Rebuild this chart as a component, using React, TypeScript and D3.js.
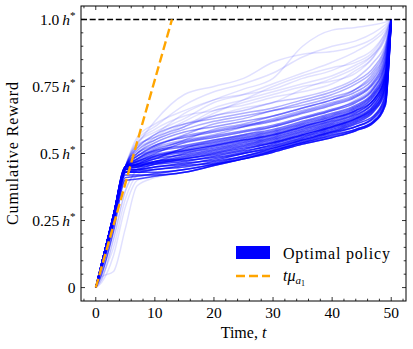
import * as d3 from "d3";

// time steps at which each run's cumulative reward was read
const times = [0, 1, 3, 5, 7, 10, 15, 20, 25, 30, 35, 40, 44, 47, 49, 50];

// cumulative reward (fraction of h*) of representative runs of the optimal policy
const runs: number[][] = [
  [0, 0.09, 0.27, 0.45, 0.45, 0.46, 0.47, 0.49, 0.51, 0.53, 0.56, 0.59, 0.62, 0.66, 0.74, 1],
  [0, 0.08, 0.25, 0.43, 0.43, 0.43, 0.44, 0.46, 0.48, 0.51, 0.54, 0.57, 0.59, 0.62, 0.69, 1],
  [0, 0.09, 0.26, 0.44, 0.44, 0.45, 0.46, 0.48, 0.5, 0.52, 0.55, 0.58, 0.61, 0.64, 0.72, 1],
  [0, 0.07, 0.24, 0.42, 0.42, 0.42, 0.43, 0.455, 0.48, 0.505, 0.535, 0.56, 0.585, 0.615, 0.68, 1],
  [0, 0.09, 0.27, 0.45, 0.46, 0.47, 0.49, 0.51, 0.53, 0.55, 0.58, 0.61, 0.64, 0.69, 0.77, 1],
  [0, 0.09, 0.27, 0.45, 0.47, 0.49, 0.51, 0.53, 0.55, 0.57, 0.6, 0.63, 0.66, 0.71, 0.79, 1],
  [0, 0.08, 0.26, 0.44, 0.45, 0.47, 0.5, 0.52, 0.54, 0.56, 0.59, 0.62, 0.65, 0.7, 0.78, 1],
  [0, 0.09, 0.27, 0.45, 0.48, 0.51, 0.53, 0.55, 0.57, 0.59, 0.62, 0.65, 0.68, 0.73, 0.82, 1],
  [0, 0.08, 0.25, 0.43, 0.44, 0.46, 0.48, 0.5, 0.52, 0.54, 0.57, 0.6, 0.63, 0.67, 0.75, 1],
  [0, 0.09, 0.27, 0.45, 0.46, 0.48, 0.52, 0.54, 0.56, 0.58, 0.61, 0.64, 0.67, 0.72, 0.8, 1],
  [0, 0.09, 0.27, 0.45, 0.49, 0.53, 0.56, 0.58, 0.6, 0.62, 0.65, 0.68, 0.71, 0.76, 0.84, 1],
  [0, 0.08, 0.25, 0.43, 0.43, 0.44, 0.45, 0.47, 0.49, 0.52, 0.55, 0.58, 0.6, 0.63, 0.7, 1],
  [0, 0.05, 0.21, 0.4, 0.405, 0.415, 0.43, 0.455, 0.48, 0.505, 0.535, 0.56, 0.585, 0.615, 0.68, 1],
  [0, 0.09, 0.27, 0.45, 0.47, 0.5, 0.54, 0.56, 0.58, 0.6, 0.63, 0.66, 0.69, 0.74, 0.83, 1],
  [0, 0.09, 0.27, 0.45, 0.5, 0.54, 0.58, 0.6, 0.62, 0.64, 0.67, 0.7, 0.73, 0.78, 0.87, 1],
  [0, 0.08, 0.26, 0.44, 0.46, 0.49, 0.51, 0.53, 0.55, 0.57, 0.6, 0.63, 0.66, 0.7, 0.79, 1],
  [0, 0.08, 0.25, 0.43, 0.435, 0.44, 0.455, 0.465, 0.49, 0.515, 0.545, 0.575, 0.6, 0.635, 0.71, 1],
  [0, 0.09, 0.26, 0.44, 0.44, 0.45, 0.465, 0.475, 0.5, 0.525, 0.555, 0.585, 0.615, 0.655, 0.73, 1],
  [0, 0.09, 0.27, 0.45, 0.455, 0.465, 0.475, 0.485, 0.505, 0.535, 0.565, 0.595, 0.625, 0.665, 0.75, 1],
  [0, 0.09, 0.27, 0.45, 0.455, 0.47, 0.48, 0.495, 0.515, 0.54, 0.57, 0.6, 0.63, 0.675, 0.76, 1],
  [0, 0.08, 0.26, 0.44, 0.45, 0.465, 0.485, 0.505, 0.525, 0.545, 0.575, 0.605, 0.635, 0.68, 0.765, 1],
  [0, 0.09, 0.27, 0.45, 0.46, 0.48, 0.495, 0.515, 0.535, 0.555, 0.585, 0.615, 0.645, 0.69, 0.775, 1],
  [0, 0.09, 0.27, 0.45, 0.465, 0.485, 0.505, 0.525, 0.545, 0.565, 0.595, 0.625, 0.655, 0.7, 0.785, 1],
  [0, 0.09, 0.27, 0.45, 0.47, 0.495, 0.515, 0.535, 0.555, 0.575, 0.605, 0.635, 0.665, 0.715, 0.8, 1],
  [0, 0.09, 0.27, 0.45, 0.475, 0.505, 0.525, 0.545, 0.565, 0.585, 0.615, 0.645, 0.675, 0.725, 0.81, 1],
  [0, 0.09, 0.27, 0.45, 0.48, 0.515, 0.545, 0.565, 0.585, 0.605, 0.635, 0.665, 0.695, 0.745, 0.835, 1],
  [0, 0.07, 0.23, 0.41, 0.415, 0.425, 0.44, 0.46, 0.485, 0.51, 0.54, 0.565, 0.59, 0.62, 0.69, 1],
  [0, 0.09, 0.27, 0.45, 0.49, 0.525, 0.565, 0.585, 0.605, 0.625, 0.655, 0.685, 0.715, 0.765, 0.855, 1],
  [0, 0.09, 0.27, 0.45, 0.51, 0.55, 0.59, 0.62, 0.64, 0.66, 0.69, 0.72, 0.76, 0.81, 0.89, 1],
  [0, 0.09, 0.27, 0.45, 0.52, 0.57, 0.61, 0.63, 0.65, 0.67, 0.7, 0.73, 0.77, 0.82, 0.9, 1],
  [0, 0.09, 0.27, 0.45, 0.5, 0.53, 0.57, 0.61, 0.63, 0.66, 0.68, 0.71, 0.74, 0.79, 0.88, 1],
  [0, 0.08, 0.26, 0.44, 0.48, 0.52, 0.55, 0.57, 0.6, 0.63, 0.66, 0.69, 0.72, 0.77, 0.86, 1],
  [0, 0.09, 0.27, 0.45, 0.53, 0.56, 0.6, 0.64, 0.66, 0.69, 0.71, 0.74, 0.78, 0.84, 0.91, 1],
  [0, 0.09, 0.27, 0.45, 0.49, 0.51, 0.55, 0.59, 0.61, 0.64, 0.67, 0.7, 0.74, 0.8, 0.88, 1],
  [0, 0.09, 0.27, 0.45, 0.55, 0.6, 0.68, 0.73, 0.76, 0.8, 0.86, 0.9, 0.92, 0.95, 0.98, 1],
  [0, 0.09, 0.27, 0.45, 0.53, 0.62, 0.72, 0.75, 0.78, 0.84, 0.87, 0.88, 0.9, 0.93, 0.97, 1],
  [0, 0.09, 0.27, 0.45, 0.52, 0.57, 0.65, 0.7, 0.74, 0.78, 0.9, 0.96, 0.97, 0.98, 0.99, 1],
  [0, 0.09, 0.27, 0.45, 0.54, 0.58, 0.63, 0.69, 0.72, 0.76, 0.8, 0.84, 0.88, 0.92, 0.96, 1],
  [0, 0.09, 0.27, 0.45, 0.56, 0.61, 0.66, 0.7, 0.72, 0.74, 0.78, 0.81, 0.85, 0.89, 0.95, 1],
  [0, 0.09, 0.27, 0.45, 0.5, 0.56, 0.62, 0.67, 0.7, 0.73, 0.76, 0.79, 0.83, 0.87, 0.93, 1],
  [0, 0.09, 0.27, 0.45, 0.54, 0.59, 0.64, 0.66, 0.69, 0.72, 0.75, 0.77, 0.8, 0.86, 0.93, 1],
  [0, 0.09, 0.27, 0.45, 0.52, 0.55, 0.6, 0.66, 0.68, 0.71, 0.73, 0.76, 0.81, 0.86, 0.94, 1],
  [0, 0.09, 0.27, 0.45, 0.51, 0.56, 0.6, 0.65, 0.7, 0.75, 0.79, 0.82, 0.84, 0.88, 0.95, 1],
  [0, 0.09, 0.27, 0.45, 0.5, 0.55, 0.61, 0.64, 0.67, 0.69, 0.74, 0.78, 0.82, 0.87, 0.94, 1],
  [0, 0.04, 0.06, 0.22, 0.38, 0.41, 0.43, 0.46, 0.48, 0.51, 0.54, 0.57, 0.6, 0.64, 0.72, 1],
  [0, 0.02, 0.12, 0.3, 0.4, 0.42, 0.44, 0.47, 0.5, 0.53, 0.56, 0.6, 0.63, 0.68, 0.76, 1],
  [0, 0.04, 0.15, 0.33, 0.42, 0.45, 0.48, 0.5, 0.53, 0.56, 0.59, 0.62, 0.65, 0.7, 0.8, 1],
  [0, 0.03, 0.18, 0.36, 0.44, 0.48, 0.52, 0.55, 0.57, 0.6, 0.63, 0.66, 0.7, 0.75, 0.85, 1],
];

// how many simulated runs follow each representative run
const runCounts = [
  10, 10, 10, 10, 8, 7, 8, 6, 10, 7, 5, 10, 9, 6, 4, 8,
  10, 10, 10, 9, 8, 8, 7, 6, 6, 5, 9, 4,
  3, 3, 3, 3, 2, 3,
  1, 1, 1, 1, 1, 1, 1, 1, 1, 1,
  1, 1, 1, 2,
];

// t * mu_{a1}, drawn until it reaches h*
const armTimes = [0, 12.9];
const armReward = [0, 1.0];

const optimumLevel = 1.0;

const xTicks = [0, 10, 20, 30, 40, 50];
const yTicks = [0, 0.25, 0.5, 0.75, 1.0];
const yTickNumbers = ["0", "0.25", "0.5", "0.75", "1.0"];

const FONT = "'Liberation Serif', 'DejaVu Serif', serif";
const BLUE = "#0000ff";
const ORANGE = "#ffa500";

export default function App() {
  const width = 413;
  const height = 349;
  const margin = { top: 6, right: 7, bottom: 48, left: 81 };
  const innerRight = width - margin.right;
  const innerBottom = height - margin.bottom;

  const x = d3.scaleLinear().domain([-2.5, 52.5]).range([margin.left, innerRight]);
  const y = d3.scaleLinear().domain([-0.05, 1.05]).range([innerBottom, margin.top]);

  const line = d3
    .line<[number, number]>()
    .x((d) => x(d[0]))
    .y((d) => y(d[1]));
  const runLine = d3
    .line<[number, number]>()
    .x((d) => x(d[0]))
    .y((d) => y(d[1]))
    .curve(d3.curveMonotoneX);

  const order = d3.range(runs.length).sort((a, b) => runCounts[a] - runCounts[b]);

  const xMinor = d3.range(-2, 53, 2).filter((v) => v % 10 !== 0);
  const yMinor = d3.range(0, 21).map((i) => i * 0.05).filter((_, i) => i % 5 !== 0);

  const major = 4;
  const minor = 2.3;

  return (
    <svg
      width={width}
      height={height}
      style={{ position: "absolute", left: 0, top: 0, background: "#fff" }}
      fontFamily={FONT}
    >
      {/* runs */}
      <g fill="none" stroke={BLUE} strokeWidth={1.5} strokeLinejoin="round">
        {order.map((i) => (
          <path
            key={i}
            d={runLine(times.map((t, k) => [t, runs[i][k]] as [number, number])) || ""}
            strokeOpacity={1 - Math.pow(0.88, runCounts[i])}
          />
        ))}
      </g>

      {/* h* level */}
      <line
        x1={x(-2.5)}
        x2={x(52.5)}
        y1={y(optimumLevel)}
        y2={y(optimumLevel)}
        stroke="#000"
        strokeWidth={1.5}
        strokeDasharray="6 2.7"
      />

      {/* t mu_a1 */}
      <path
        d={line(armTimes.map((t, k) => [t, armReward[k]] as [number, number])) || ""}
        fill="none"
        stroke={ORANGE}
        strokeWidth={2.4}
        strokeDasharray="9 4"
      />

      {/* frame and ticks */}
      <g stroke="#000" strokeWidth={0.8}>
        {xTicks.map((v) => (
          <g key={"xM" + v}>
            <line x1={x(v)} x2={x(v)} y1={innerBottom} y2={innerBottom - major} />
            <line x1={x(v)} x2={x(v)} y1={margin.top} y2={margin.top + major} />
          </g>
        ))}
        {xMinor.map((v) => (
          <g key={"xm" + v}>
            <line x1={x(v)} x2={x(v)} y1={innerBottom} y2={innerBottom - minor} />
            <line x1={x(v)} x2={x(v)} y1={margin.top} y2={margin.top + minor} />
          </g>
        ))}
        {yTicks.map((v) => (
          <g key={"yM" + v}>
            <line x1={margin.left} x2={margin.left + major} y1={y(v)} y2={y(v)} />
            <line x1={innerRight} x2={innerRight - major} y1={y(v)} y2={y(v)} />
          </g>
        ))}
        {yMinor.map((v) => (
          <g key={"ym" + v}>
            <line x1={margin.left} x2={margin.left + minor} y1={y(v)} y2={y(v)} />
            <line x1={innerRight} x2={innerRight - minor} y1={y(v)} y2={y(v)} />
          </g>
        ))}
        <rect
          x={margin.left}
          y={margin.top}
          width={innerRight - margin.left}
          height={innerBottom - margin.top}
          fill="none"
          strokeWidth={1}
        />
      </g>

      {/* tick labels */}
      <g fontSize={15.5} fill="#000">
        {xTicks.map((v) => (
          <text key={"xl" + v} x={x(v)} y={318} textAnchor="middle">
            {v}
          </text>
        ))}
        {yTicks.map((v, i) => (
          <text key={"yl" + v} x={75.5} y={y(v) + 5.5} textAnchor="end">
            <tspan>{yTickNumbers[i]}</tspan>
            {v !== 0 && (
              <>
                <tspan dx={3} fontStyle="italic">h</tspan>
                <tspan dy={-6} fontSize={11}>*</tspan>
              </>
            )}
          </text>
        ))}
      </g>

      {/* axis titles */}
      <text x={243.5} y={338} textAnchor="middle" fontSize={16}>
        Time, <tspan fontStyle="italic">t</tspan>
      </text>
      <text
        transform={`translate(18,153.5) rotate(-90)`}
        textAnchor="middle"
        fontSize={16}
        textLength={143}
        lengthAdjust="spacing"
      >
        Cumulative Reward
      </text>

      {/* legend */}
      <rect x={236} y={246} width={34} height={13} fill={BLUE} />
      <text x={283} y={258.5} fontSize={16} textLength={107} lengthAdjust="spacing">
        Optimal policy
      </text>
      <line x1={236} x2={270} y1={276} y2={276} stroke={ORANGE} strokeWidth={2.4} strokeDasharray="9 4" />
      <text x={283} y={281} fontSize={16}>
        <tspan fontStyle="italic">tμ</tspan>
        <tspan fontStyle="italic" fontSize={11} dy={3}>a</tspan>
        <tspan fontSize={8} dy={2}>1</tspan>
      </text>
    </svg>
  );
}
